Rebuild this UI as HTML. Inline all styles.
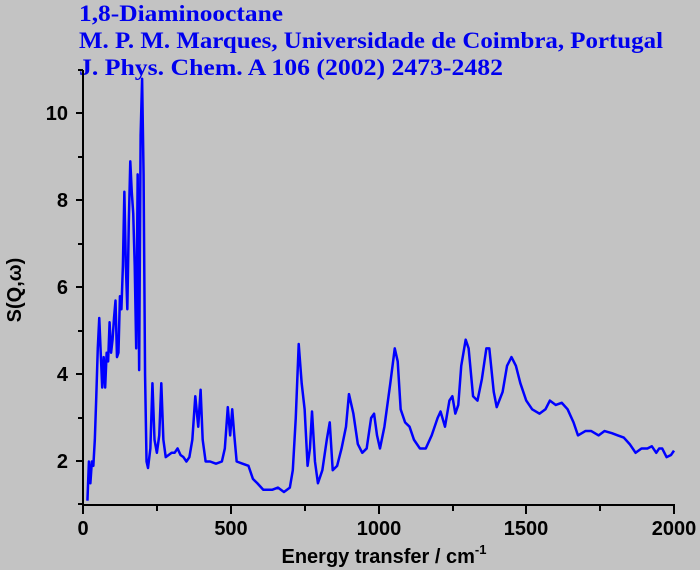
<!DOCTYPE html>
<html><head><meta charset="utf-8"><style>
html,body{margin:0;padding:0;background:#c3c3c3;}
svg{display:block}
.t{font-family:"Liberation Serif",serif;font-weight:bold;font-size:23px;fill:#0000ee}
.k{font-family:"Liberation Sans",sans-serif;font-weight:bold;font-size:20px;fill:#000}
</style></head><body>
<svg width="700" height="570" viewBox="0 0 700 570" xmlns="http://www.w3.org/2000/svg">
<rect width="700" height="570" fill="#c3c3c3"/>
<text class="t" x="79" y="21" textLength="204" lengthAdjust="spacingAndGlyphs">1,8-Diaminooctane</text>
<text class="t" x="79" y="48" textLength="584" lengthAdjust="spacingAndGlyphs">M. P. M. Marques, Universidade de Coimbra, Portugal</text>
<text class="t" x="79" y="75" textLength="424" lengthAdjust="spacingAndGlyphs">J. Phys. Chem. A 106 (2002) 2473-2482</text>
<g stroke="#000" stroke-width="2" fill="none">
<line x1="83" y1="70" x2="83" y2="506"/>
<line x1="82" y1="505" x2="675" y2="505"/>
<path d="M76 461H83M76 374H83M76 287H83M76 200H83M76 113H83M78 504H83M78 418H83M78 331H83M78 244H83M78 157H83M78 70H83"/>
<path d="M83 505V514M231 505V514M379 505V514M526 505V514M674 505V514M157 505V511M305 505V511M453 505V511M600 505V511"/>
</g>
<g class="k" text-anchor="end">
<text x="68" y="468">2</text><text x="68" y="381">4</text><text x="68" y="294">6</text><text x="68" y="207">8</text><text x="68" y="120">10</text>
</g>
<g class="k" text-anchor="middle">
<text x="83" y="535">0</text><text x="231" y="535">500</text><text x="379" y="535">1000</text><text x="526" y="535">1500</text><text x="674" y="535">2000</text>
<text x="384" y="563">Energy transfer / cm<tspan dy="-9" font-size="13">-1</tspan></text>
<text transform="translate(21,290) rotate(-90)">S(Q,ω)</text>
</g>
<g transform="translate(83,548.5) scale(0.2955,-43.5)">
<polyline vector-effect="non-scaling-stroke" fill="none" stroke="#0000ff" stroke-width="2.5" stroke-linejoin="round" points="15,1.1 20,2.0 25,1.5 30,2.0 35,1.9 40,2.5 45,3.5 50,4.6 55,5.3 60,4.5 65,3.7 70,4.4 75,3.7 80,4.5 85,4.3 90,5.2 95,4.5 100,4.8 105,5.3 110,5.7 115,4.4 120,4.5 125,5.8 130,5.5 135,6.5 140,8.2 145,6.5 150,5.5 155,7.5 160,8.9 165,8.2 170,7.7 175,6.5 180,4.6 185,8.6 190,4.1 195,9.5 200,10.8 205,8.6 210,4.0 215,2.0 220,1.85 228,2.3 235,3.8 242,2.5 250,2.2 258,2.6 265,3.8 272,2.5 280,2.1 300,2.2 310,2.2 320,2.3 330,2.15 340,2.1 350,2.0 360,2.1 370,2.5 380,3.5 390,2.8 398,3.65 405,2.5 415,2.0 430,2.0 450,1.95 470,2.0 480,2.3 490,3.25 498,2.6 505,3.2 512,2.6 520,2.0 540,1.95 560,1.9 575,1.6 590,1.5 610,1.35 640,1.35 660,1.4 680,1.3 700,1.4 710,1.8 720,3.0 730,4.7 740,3.8 750,3.2 760,1.9 768,2.3 775,3.15 785,2.0 795,1.5 810,1.8 825,2.5 835,2.9 845,1.8 860,1.9 875,2.3 890,2.8 900,3.55 915,3.1 930,2.4 945,2.2 960,2.3 975,3.0 985,3.1 995,2.6 1005,2.3 1020,2.8 1040,3.8 1055,4.6 1065,4.3 1075,3.2 1090,2.9 1105,2.8 1120,2.5 1140,2.3 1160,2.3 1180,2.6 1200,3.0 1210,3.15 1225,2.8 1240,3.4 1250,3.5 1260,3.1 1270,3.3 1280,4.2 1295,4.8 1305,4.6 1320,3.5 1335,3.4 1350,3.9 1365,4.6 1375,4.6 1390,3.6 1400,3.25 1420,3.6 1435,4.2 1450,4.4 1465,4.2 1480,3.8 1500,3.4 1520,3.2 1545,3.1 1565,3.2 1580,3.4 1600,3.3 1620,3.35 1640,3.2 1660,2.9 1675,2.6 1700,2.7 1720,2.7 1745,2.6 1765,2.7 1790,2.65 1810,2.6 1830,2.55 1850,2.4 1870,2.2 1890,2.3 1910,2.3 1925,2.35 1940,2.2 1950,2.3 1960,2.3 1975,2.1 1990,2.15 2000,2.25"/>
</g>
</svg>
</body></html>
